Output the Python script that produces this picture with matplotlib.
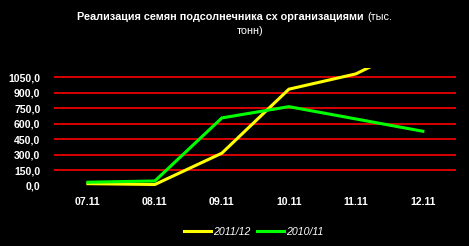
import matplotlib
matplotlib.use("Agg")
import matplotlib.pyplot as plt
import numpy as np

months = ["07.11", "08.11", "09.11", "10.11", "11.11", "12.11"]
season_2011 = [20, 12, 315, 934, 1082, 1400]
season_2010 = [34, 46, 656, 765, 646, 527]
y_ticks = [0, 150, 300, 450, 600, 750, 900, 1050]
y_labels = ["0,0", "150,0", "300,0", "450,0", "600,0", "750,0", "900,0", "1050,0"]

plt.rcParams["font.family"] = ["Liberation Sans", "DejaVu Sans"]

fig = plt.figure(figsize=(4.69, 2.46), dpi=100, facecolor="black")
ax = fig.add_axes([0.116, 0.245, 0.857, 0.479], facecolor="black")

x = np.arange(len(months))
ax.plot(x, season_2011, color="#ffff00", lw=2.2, label="2011/12", solid_joinstyle="miter")
ax.plot(x, season_2010, color="#00ff00", lw=2.2, label="2010/11", solid_joinstyle="miter")

ax.set_xlim(-0.5, len(months) - 0.5)
ax.set_ylim(0, 1140)
ax.set_yticks(y_ticks)
ax.set_yticklabels(y_labels)
ax.set_xticks(x)
ax.set_xticklabels(months)
for t in y_ticks[1:]:
    ax.axhline(t, color="#ff0000", lw=1.2, zorder=0)
for s in ax.spines.values():
    s.set_visible(False)
ax.tick_params(length=0, colors="white", labelsize=7.6)
ax.tick_params(axis="y", pad=10)
ax.tick_params(axis="x", pad=8)
for lab in ax.get_xticklabels() + ax.get_yticklabels():
    lab.set_fontweight("bold")

fig.text(77 / 469, 0.931, "Реализация семян подсолнечника сх организациями",
         color="white", fontsize=7.8, fontweight="bold", ha="left", va="center")
fig.text(367 / 469, 0.931, "(тыс.", color="white", fontsize=7.8, ha="left", va="center")
fig.text(250 / 469, 0.874, "тонн)", color="white", fontsize=7.8, ha="center", va="center")

leg = fig.legend(loc="center", bbox_to_anchor=(254 / 469, 1 - 232 / 246), ncol=2,
                 frameon=False, handlelength=2.5, handletextpad=0.25,
                 columnspacing=0.6, prop={"style": "italic", "size": 7.6})
for t in leg.get_texts():
    t.set_color("white")

fig.savefig("out.png", dpi=100, facecolor="black")
